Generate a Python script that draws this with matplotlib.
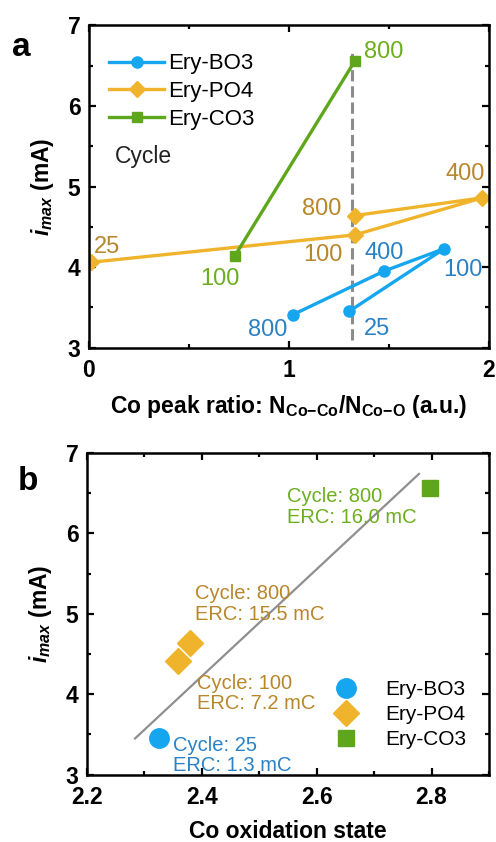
"""Co peak ratio / oxidation state vs i_max for the three Ery samples"""

import matplotlib
matplotlib.use('Agg')
import matplotlib.pyplot as plt
from matplotlib.ticker import MultipleLocator

plt.rcParams['font.family'] = ['Liberation Sans', 'DejaVu Sans']
plt.rcParams['mathtext.fontset'] = 'custom'
plt.rcParams['mathtext.rm'] = 'Liberation Sans:bold'
plt.rcParams['mathtext.bf'] = 'Liberation Sans:bold'
plt.rcParams['mathtext.it'] = 'Liberation Sans:italic:bold'

# panel a data, points in cycle order
bo3_ratio = [1.30, 1.777, 1.475, 1.02]
bo3_imax = [3.45, 4.23, 3.95, 3.41]
bo3_cycles = ['25', '100', '400', '800']

po4_ratio = [0.01, 1.33, 1.967, 1.33]
po4_imax = [4.06, 4.40, 4.86, 4.64]
po4_cycles = ['25', '100', '400', '800']

co3_ratio = [0.73, 1.33]
co3_imax = [4.14, 6.56]
co3_cycles = ['100', '800']

ref_ratio = 1.313  # dashed guide line

# panel b data
bo3_ox = [2.325]
bo3_imax_b = [3.45]
po4_ox = [2.358, 2.379]
po4_imax_b = [4.41, 4.64]
co3_ox = [2.797]
co3_imax_b = [6.56]
fit_x = [2.284, 2.778]
fit_y = [3.45, 6.74]

# colours
c_blue, t_blue = '#16a6f0', '#2a82c4'
c_gold, t_gold = '#f0b42c', '#b8862b'
c_green, t_green = '#5ea61c', '#6cae1e'

fig = plt.figure(figsize=(4.96, 8.42), dpi=100)
ax1 = fig.add_axes([0.179, 0.587, 0.807, 0.383])
ax2 = fig.add_axes([0.175, 0.080, 0.811, 0.382])


def style_axis(ax):
    """ticks in on every side, bold labels"""
    ax.tick_params(which='both', direction='in', top=True, right=True, width=1.6)
    ax.tick_params(which='major', length=5, labelsize=16.5, pad=6)
    ax.tick_params(axis='x', which='major', pad=8)
    ax.tick_params(which='minor', length=3)
    for lab in ax.get_xticklabels() + ax.get_yticklabels():
        lab.set_fontweight('bold')
    for sp in ax.spines.values():
        sp.set_linewidth(1.8)
    ax.yaxis.set_major_locator(MultipleLocator(1))
    ax.yaxis.set_minor_locator(MultipleLocator(0.5))


#%% panel a
ax1.plot([ref_ratio, ref_ratio], [3.1, 6.68], ls='--', color='#8c8c8c', lw=2.2, zorder=1)
ax1.plot(bo3_ratio, bo3_imax, '-o', color=c_blue, lw=2.4, ms=8, label='Ery-BO3', zorder=3)
ax1.plot(po4_ratio, po4_imax, '-D', color=c_gold, lw=2.4, ms=8.5, label='Ery-PO4', zorder=2)
ax1.plot(co3_ratio, co3_imax, '-s', color=c_green, lw=2.4, ms=7.5, label='Ery-CO3', zorder=2)

# cycle numbers next to the points
bo3_lab_pos = [(1.438, 3.23), (1.87, 3.96), (1.475, 4.17), (0.893, 3.22)]
po4_lab_pos = [(0.092, 4.25), (1.17, 4.15), (1.883, 5.16), (1.163, 4.72)]
co3_lab_pos = [(0.655, 3.85), (1.475, 6.67)]
for txt, (x, y) in zip(bo3_cycles, bo3_lab_pos):
    ax1.text(x, y, txt, color=t_blue, fontsize=17, ha='center', va='center')
for txt, (x, y) in zip(po4_cycles, po4_lab_pos):
    ax1.text(x, y, txt, color=t_gold, fontsize=17, ha='center', va='center')
for txt, (x, y) in zip(co3_cycles, co3_lab_pos):
    ax1.text(x, y, txt, color=t_green, fontsize=17, ha='center', va='center')
ax1.text(0.13, 5.37, 'Cycle', color='#222222', fontsize=16.5, va='center')

ax1.set_xlim(0, 2)
ax1.set_ylim(3, 7)
ax1.xaxis.set_major_locator(MultipleLocator(1))
ax1.xaxis.set_minor_locator(MultipleLocator(0.5))
style_axis(ax1)
ax1.set_xlabel(r'Co peak ratio: N$_{\mathrm{Co{-}Co}}$/N$_{\mathrm{Co{-}O}}$ (a.u.)',
               fontsize=16.5, fontweight='bold', labelpad=8)
ax1.set_ylabel(r'$i_{max}$ (mA)', fontsize=16.5, fontweight='bold', labelpad=8)
ax1.legend(loc='upper left', bbox_to_anchor=(0.0, 0.975), frameon=False, fontsize=16,
           handlelength=2.5, handletextpad=0.15, labelspacing=0.3)
fig.text(0.025, 0.944, 'a', fontsize=24, fontweight='bold', va='center')

#%% panel b
ax2.plot(fit_x, fit_y, color='#8f8f8f', lw=1.6, zorder=1)
ax2.plot(bo3_ox, bo3_imax_b, 'o', color=c_blue, ms=14, ls='none', label='Ery-BO3')
ax2.plot(po4_ox, po4_imax_b, 'D', color=c_gold, ms=13, ls='none', label='Ery-PO4')
ax2.plot(co3_ox, co3_imax_b, 's', color=c_green, ms=12, ls='none', label='Ery-CO3')

ax2.text(2.548, 6.33, 'Cycle: 800\nERC: 16.0 mC', color=t_green, fontsize=14.5,
         va='center', linespacing=1.1)
ax2.text(2.388, 5.12, 'Cycle: 800\nERC: 15.5 mC', color=t_gold, fontsize=14.5,
         va='center', linespacing=1.1)
ax2.text(2.392, 4.01, 'Cycle: 100\nERC: 7.2 mC', color=t_gold, fontsize=14.5,
         va='center', linespacing=1.1)
ax2.text(2.35, 3.24, 'Cycle: 25\nERC: 1.3 mC', color=t_blue, fontsize=14.5,
         va='center', linespacing=1.1)

ax2.set_xlim(2.2, 2.9)
ax2.set_ylim(3, 7)
ax2.xaxis.set_major_locator(MultipleLocator(0.2))
ax2.xaxis.set_minor_locator(MultipleLocator(0.1))
style_axis(ax2)
ax2.set_xlabel('Co oxidation state', fontsize=16.5, fontweight='bold', labelpad=8)
ax2.set_ylabel(r'$i_{max}$ (mA)', fontsize=16.5, fontweight='bold', labelpad=8)
ax2.legend(loc='lower right', bbox_to_anchor=(0.99, 0.02), frameon=False, fontsize=15,
           handletextpad=0.9, labelspacing=0.3, markerscale=1.0)
fig.text(0.035, 0.428, 'b', fontsize=24, fontweight='bold', va='center')

fig.savefig('out.png', dpi=100)
